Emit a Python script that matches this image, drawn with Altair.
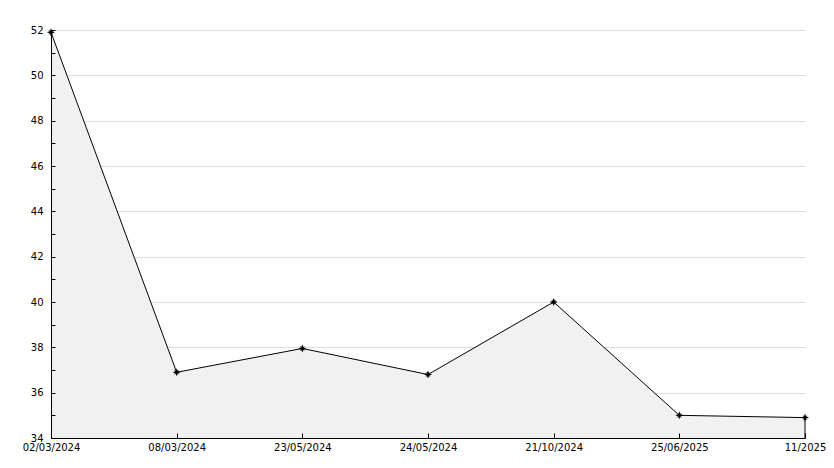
import altair as alt
import pandas as pd

dates = ["02/03/2024", "08/03/2024", "23/05/2024", "24/05/2024", "21/10/2024", "25/06/2025", "11/2025"]
values = [51.9, 36.9, 37.95, 36.8, 40.0, 35.0, 34.9]
y_labels = [34, 36, 38, 40, 42, 44, 46, 48, 50, 52]
y_minor = list(range(34, 53))

df = pd.DataFrame({"date": dates, "value": values, "base": [34] * len(dates)})
last = df.tail(1)

FONT = "DejaVu Sans"
W, H = 754, 408

xscale = alt.Scale(type="point", padding=0, domain=dates)
yscale = alt.Scale(domain=[34, 52], nice=False, zero=False)

x_main = alt.X("date:N", sort=None, scale=xscale,
               axis=alt.Axis(orient="bottom", title=None, labelAngle=0, ticks=False,
                             domainColor="black", labelFont=FONT, labelFontSize=10,
                             labelColor="black", labelPadding=4, grid=False,
                             labelOverlap=False, zindex=1))
y_main = alt.Y("value:Q", scale=yscale,
               axis=alt.Axis(orient="left", title=None, values=y_labels, ticks=False,
                             domainColor="black", labelFont=FONT, labelFontSize=10,
                             labelColor="black", labelPadding=8, grid=False,
                             labelOverlap=False, zindex=1))

# grid lines (behind the area)
grid = alt.Chart(df).mark_line(opacity=0).encode(
    x=alt.X("date:N", sort=None, scale=xscale, axis=None),
    y=alt.Y("value:Q", scale=yscale,
            axis=alt.Axis(orient="left", title=None, values=y_labels, labels=False,
                          ticks=False, domain=False, grid=True, gridColor="#dddddd",
                          zindex=0)),
)

area = alt.Chart(df).mark_area(color="#f1f1f1", opacity=1, clip=True).encode(
    x=x_main, y=y_main, y2="base:Q")

# inward ticks drawn as axes on the opposite side with negative offset
x_ticks = alt.X("date:N", sort=None, scale=xscale,
                axis=alt.Axis(orient="top", offset=-H, title=None, labels=False,
                              domain=False, ticks=True, tickSize=5, tickColor="black",
                              grid=False, zindex=1))
y_ticks = alt.Y("value:Q", scale=yscale,
                axis=alt.Axis(orient="right", offset=-W, title=None, labels=False,
                              domain=False, ticks=True, tickSize=4, tickColor="black",
                              values=y_minor, grid=False, zindex=1))

line = alt.Chart(df).mark_line(color="black", strokeWidth=1).encode(x=x_ticks, y=y_ticks)

edge = alt.Chart(last).mark_rule(color="black", strokeWidth=1).encode(
    x=alt.X("date:N", sort=None, scale=xscale, axis=None),
    y=alt.Y("value:Q", scale=yscale, axis=None),
    y2="base:Q",
)

star = "M0,-1L0.25,-0.35L0.7,-0.7L0.35,-0.25L1,0L0.35,0.25L0.7,0.7L0.25,0.35L0,1L-0.25,0.35L-0.7,0.7L-0.35,0.25L-1,0L-0.35,-0.25L-0.7,-0.7L-0.25,-0.35Z"
points = alt.Chart(df).mark_point(shape=star, filled=True, color="black", size=65, opacity=1).encode(
    x=alt.X("date:N", sort=None, scale=xscale, axis=None),
    y=alt.Y("value:Q", scale=yscale, axis=None),
)

chart = alt.layer(grid, area, edge, line, points).resolve_axis(
    x="independent", y="independent"
).properties(
    width=W, height=H,
    autosize=alt.AutoSizeParams(type="none"),
    padding={"left": 43, "top": 22, "right": 21, "bottom": 20},
    background="white",
).configure_view(stroke=None)

chart.save("out.html", embed_options={"renderer": "svg", "actions": False})
